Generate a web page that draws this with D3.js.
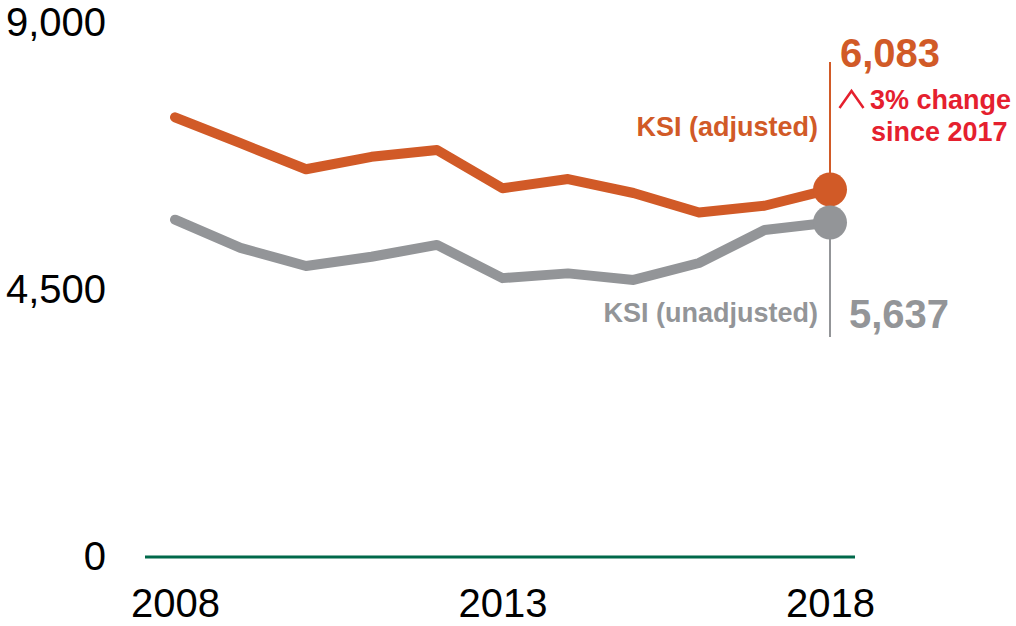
<!DOCTYPE html>
<html>
<head>
<meta charset="utf-8">
<script src="https://cdn.jsdelivr.net/npm/d3@7"></script>
<style>
  html, body { margin: 0; padding: 0; background: #fff; }
  svg { display: block; font-family: "Liberation Sans", Arial, sans-serif; }
</style>
</head>
<body>
<svg id="chart" width="1016" height="626"></svg>
<script>
const years = [2008, 2009, 2010, 2011, 2012, 2013, 2014, 2015, 2016, 2017, 2018];
const adjusted = [7410, 6975, 6535, 6745, 6860, 6215, 6370, 6135, 5805, 5920, 6195];
const unadjusted = [5685, 5210, 4905, 5060, 5260, 4700, 4780, 4670, 4955, 5510, 5637];
const yTicks = [0, 4500, 9000];
const xTicks = [2008, 2013, 2018];
const seriesLabels = ["KSI (adjusted)", "KSI (unadjusted)"];
const valueLabels = ["6,083", "5,637"];
const changeLabel = ["3% change", "since 2017"];

const ORANGE = "#D15A27", GRAY = "#939598", RED = "#E5202E", GREEN = "#00694A";

const svg = d3.select("#chart");
const x = d3.scaleLinear().domain([2008, 2018]).range([175, 830]);
const y = d3.scaleLinear().domain([0, 9000]).range([557, 23]);

// baseline
svg.append("line")
  .attr("x1", x(2008) - 30).attr("x2", x(2018) + 25)
  .attr("y1", y(0)).attr("y2", y(0))
  .attr("stroke", GREEN).attr("stroke-width", 3);

// y axis labels
const yAxis = svg.append("g").attr("transform", "translate(106,0)")
  .call(d3.axisLeft(y).tickValues(yTicks).tickSize(0).tickPadding(0).tickFormat(d3.format(",")));
yAxis.select(".domain").remove();
yAxis.selectAll("text").attr("font-size", 40).attr("fill", "#000")
  .attr("font-family", "'Liberation Sans', Arial, sans-serif");

// x axis labels
const xAxis = svg.append("g").attr("transform", "translate(0,589)")
  .call(d3.axisBottom(x).tickValues(xTicks).tickSize(0).tickPadding(0).tickFormat(d3.format("d")));
xAxis.select(".domain").remove();
xAxis.selectAll("text").attr("font-size", 40).attr("fill", "#000")
  .attr("dy", "0.7em")
  .attr("font-family", "'Liberation Sans', Arial, sans-serif");

const last = years.length - 1;
const xl = x(years[last]);

// leader lines
svg.append("line").attr("x1", xl).attr("x2", xl)
  .attr("y1", 62).attr("y2", y(adjusted[last]))
  .attr("stroke", ORANGE).attr("stroke-width", 2);
svg.append("line").attr("x1", xl).attr("x2", xl)
  .attr("y1", y(unadjusted[last])).attr("y2", 337)
  .attr("stroke", GRAY).attr("stroke-width", 2);

const line = d3.line().x((d, i) => x(years[i])).y(d => y(d));

svg.append("path").datum(adjusted).attr("d", line)
  .attr("fill", "none").attr("stroke", ORANGE).attr("stroke-width", 10)
  .attr("stroke-linecap", "round").attr("stroke-linejoin", "round");
svg.append("circle").attr("cx", xl).attr("cy", y(adjusted[last])).attr("r", 17).attr("fill", ORANGE);

svg.append("path").datum(unadjusted).attr("d", line)
  .attr("fill", "none").attr("stroke", GRAY).attr("stroke-width", 10)
  .attr("stroke-linecap", "round").attr("stroke-linejoin", "round");
svg.append("circle").attr("cx", xl).attr("cy", y(unadjusted[last])).attr("r", 17).attr("fill", GRAY);

// labels
svg.append("text").attr("x", 818).attr("y", 136).attr("text-anchor", "end")
  .attr("font-size", 27).attr("font-weight", "bold").attr("fill", ORANGE).text(seriesLabels[0]);
svg.append("text").attr("x", 818).attr("y", 322).attr("text-anchor", "end")
  .attr("font-size", 27).attr("font-weight", "bold").attr("fill", GRAY).text(seriesLabels[1]);

svg.append("text").attr("x", 840).attr("y", 67)
  .attr("font-size", 40).attr("font-weight", "bold").attr("fill", ORANGE).text(valueLabels[0]);
svg.append("text").attr("x", 849).attr("y", 328)
  .attr("font-size", 40).attr("font-weight", "bold").attr("fill", GRAY).text(valueLabels[1]);

// change annotation
svg.append("path").attr("d", "M839.5,108 L851.5,91 L863.5,108")
  .attr("fill", "none").attr("stroke", RED).attr("stroke-width", 2.5);
svg.append("text").attr("x", 870).attr("y", 109)
  .attr("font-size", 27).attr("font-weight", "bold").attr("fill", RED).text(changeLabel[0]);
svg.append("text").attr("x", 871).attr("y", 141)
  .attr("font-size", 27).attr("font-weight", "bold").attr("fill", RED).text(changeLabel[1]);
</script>
</body>
</html>
